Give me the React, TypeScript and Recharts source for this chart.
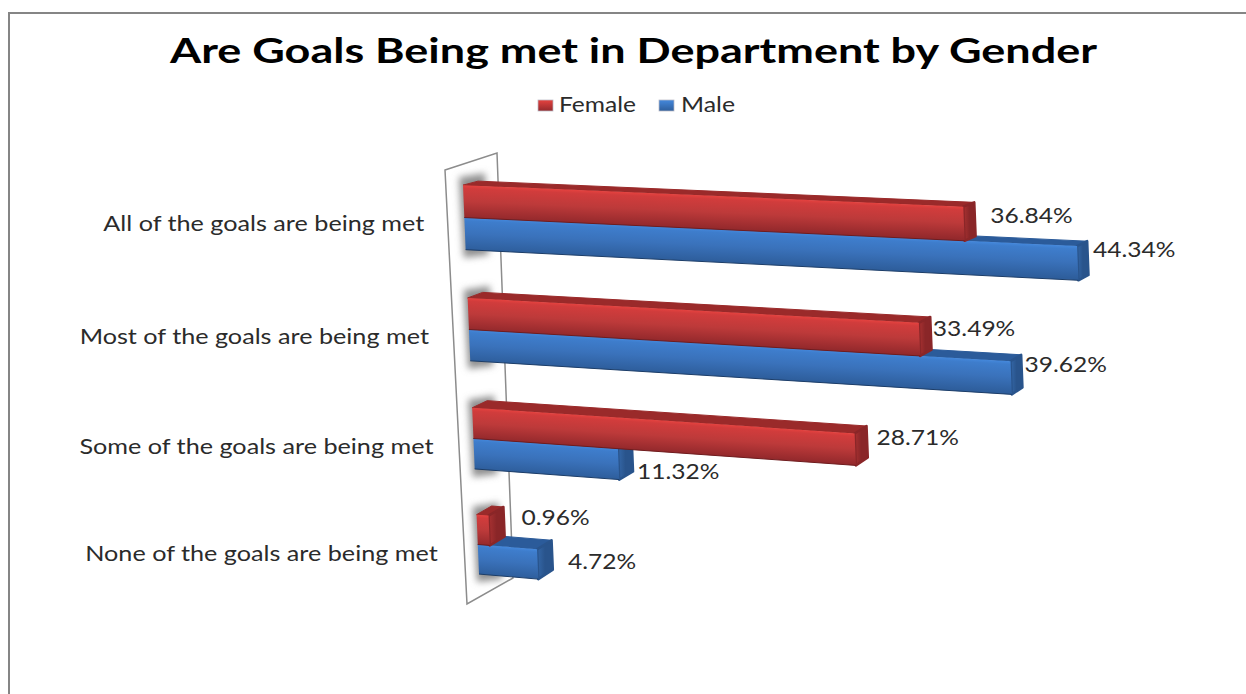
import { BarChart, Bar, XAxis, YAxis, Legend, LabelList } from "recharts";

const categories = [
  "All of the goals are being met",
  "Most of the goals are being met",
  "Some of the goals are being met",
  "None of the goals are being met",
];
const female = [36.84, 33.49, 28.71, 0.96];
const male = [44.34, 39.62, 11.32, 4.72];

const data = categories.map((name, i) => ({ name, female: female[i], male: male[i] }));

// hand placed data labels, offset from the front right corner of each bar
const LABEL_NUDGE: Record<string, number[][]> = {
  female: [[27, -8], [14, -10], [22, -11], [33, -13]],
  male: [[16, -13], [14, -13], [19, 8], [31, -2]],
};

const COLORS: Record<string, any> = {
  female: {
    front: ["#e5423f", "#d13c3c", "#bd3a3a", "#94292c"],
    top: "#9a2a2a",
    side: ["#a93232", "#8a2628"],
    edge: "#6f1c1e",
  },
  male: {
    front: ["#4488dc", "#3e7dcc", "#3a72bb", "#2e5e9c"],
    top: "#2b5b9a",
    side: ["#3568a8", "#29548c"],
    edge: "#1c3d68",
  },
};

const FONT = "Lato, sans-serif";
const TEXT_COLOR = "#2b2b2b";

// the picture is a tilted 3D chart: flat plot coordinates go through this
const PLOT_LEFT = 463;
function rowY(fy: number) {
  const u = fy - 383.5;
  return 383.875 + u - 0.000126 * u * u;
}
function project(fx: number, fy: number) {
  const sy0 = rowY(fy);
  const k = 0.043 + (sy0 - 185) * 0.000108;
  const x0 = PLOT_LEFT + 0.0412 * (sy0 - 185);
  const flat = fx - PLOT_LEFT;
  const dist = flat * (0.902 + 0.000169 * flat);
  return { x: x0 + dist, y: sy0 + k * dist, k };
}
// bar depth shrinks towards the far end of the bar
function depth(sy: number, dist: number) {
  return { dx: 15 - dist * 0.008, dy: -(4 + (sy - 185) * 0.014) };
}
const pts = (list: { x: number; y: number }[]) => list.map((p) => `${p.x},${p.y}`).join(" ");
const slotShift = (series: string, h: number) => (series === "male" ? h : -h);

function Bar3D(props: any) {
  const { x, y, width, height, index, series } = props;
  const c = COLORS[series];
  const y0 = y + slotShift(series, height);
  const tl = project(x, y0);
  const tr = project(x + width, y0);
  const br = project(x + width, y0 + height);
  const bl = project(x, y0 + height);
  const dist = tr.x - tl.x;
  const dT = depth(tr.y, dist);
  const dB = depth(br.y, dist);
  const dL = depth(tl.y, 0);
  const backTR = { x: tr.x + dT.dx, y: tr.y + dT.dy };
  const backBR = { x: br.x + dB.dx, y: br.y + dB.dy };
  const backTL = { x: tl.x + dL.dx, y: tl.y + dL.dy };
  const gid = `front-${series}-${index}`;
  const sid = `side-${series}-${index}`;
  const wallTop = project(x, y);
  const wallBottom = project(x, y + height * 2);
  return (
    <g>
      <defs>
        <linearGradient
          id={gid}
          gradientUnits="userSpaceOnUse"
          x1={tl.x}
          y1={tl.y}
          x2={tl.x - tl.k * (bl.y - tl.y)}
          y2={bl.y}
        >
          <stop offset="0" stopColor={c.front[0]} />
          <stop offset="0.1" stopColor={c.front[1]} />
          <stop offset="0.5" stopColor={c.front[2]} />
          <stop offset="1" stopColor={c.front[3]} />
        </linearGradient>
        <linearGradient id={sid} x1="0" y1="0" x2="1" y2="0">
          <stop offset="0" stopColor={c.side[0]} />
          <stop offset="0.5" stopColor={c.side[1]} />
          <stop offset="1" stopColor={c.side[1]} />
        </linearGradient>
      </defs>
      {series === "male" && (
        <polygon
          points={pts([
            { x: wallTop.x - 4, y: wallTop.y - 8 },
            { x: wallTop.x + 22, y: wallTop.y - 12 },
            { x: wallBottom.x + 23, y: wallBottom.y + 5 },
            { x: wallBottom.x - 2, y: wallBottom.y + 8 },
          ])}
          fill="#8f8f8f"
          filter="url(#wallShadow)"
        />
      )}
      <polygon points={pts([tl, tr, backTR, backTL])} fill={c.top} stroke={c.top} strokeWidth={1} strokeLinejoin="round" />
      <polygon points={pts([tr, backTR, backBR, br])} fill={`url(#${sid})`} stroke={c.side[1]} strokeWidth={2.5} strokeLinejoin="round" />
      <polygon points={pts([tl, tr, br, bl])} fill={`url(#${gid})`} />
      <polyline points={pts([bl, br])} fill="none" stroke={c.edge} strokeWidth={1} />
    </g>
  );
}

function ValueLabel(props: any) {
  const { x, y, width, height, value, index, series } = props;
  const y0 = y + slotShift(series, height);
  const top = project(x + width, y0);
  const bottom = project(x + width, y0 + height);
  const [dx, dy] = LABEL_NUDGE[series][index];
  const lx = top.x + dx;
  const ly = (top.y + bottom.y) / 2 + dy + 7;
  return (
    <text
      transform={`translate(${lx},${ly}) scale(1.17,1)`}
      fontFamily={FONT}
      fontSize={21}
      fill={TEXT_COLOR}
    >
      {`${Number(value).toFixed(2)}%`}
    </text>
  );
}

function RowTick(props: any) {
  const { y, payload } = props;
  const sy = rowY(y);
  const right = PLOT_LEFT + 0.0412 * (sy - 185) - 40;
  const baseline = sy + 13.5 + (sy - 185) * 0.009;
  return (
    <text
      transform={`translate(${right},${baseline}) scale(1.2,1)`}
      textAnchor="end"
      fontFamily={FONT}
      fontSize={21}
      fill={TEXT_COLOR}
    >
      {payload.value}
    </text>
  );
}

function ChartLegend() {
  const items = [
    { label: "Female", key: "female", box: 538, text: 559, w: 77 },
    { label: "Male", key: "male", box: 659, text: 681, w: 54 },
  ];
  return (
    <div style={{ position: "relative", height: 0 }}>
      <svg width={1246} height={130} style={{ position: "absolute", left: 0, top: 0 }}>
        <defs>
          {items.map((it) => (
            <linearGradient key={it.key} id={`swatch-${it.key}`} x1="0" y1="0" x2="0" y2="1">
              <stop offset="0" stopColor={COLORS[it.key].front[0]} />
              <stop offset="1" stopColor={COLORS[it.key].front[3]} />
            </linearGradient>
          ))}
        </defs>
        {items.map((it) => (
          <g key={it.key}>
            <rect x={it.box} y={100} width={15} height={11} fill={`url(#swatch-${it.key})`} stroke="#b9b9c4" strokeWidth={0.75} />
            <text
              x={it.text}
              y={112}
              fontFamily={FONT}
              fontSize={21}
              fill={TEXT_COLOR}
              textLength={it.w}
              lengthAdjust="spacingAndGlyphs"
            >
              {it.label}
            </text>
          </g>
        ))}
      </svg>
    </div>
  );
}

export default function App() {
  return (
    <div
      style={{
        position: "absolute",
        left: 0,
        top: 0,
        width: 1246,
        height: 694,
        overflow: "hidden",
        background: "#fff",
      }}
    >
      <div
        style={{
          position: "absolute",
          left: 8,
          top: 12,
          width: 1238,
          height: 682,
          borderTop: "2px solid #858585",
          borderLeft: "2px solid #858585",
        }}
      />
      <div style={{ position: "absolute", left: 0, top: 0 }}>
        <BarChart
          width={1246}
          height={694}
          data={data}
          layout="vertical"
          barSize={31}
          barGap={0}
          margin={{ top: 165.5, right: 95.5, bottom: 92.5, left: 0 }}
        >
          <defs>
            <filter id="wallShadow" x="-50%" y="-50%" width="200%" height="200%">
              <feGaussianBlur stdDeviation="3.5" />
            </filter>
          </defs>
          <text
            x={170}
            y={63}
            fontFamily={FONT}
            fontWeight={700}
            fontSize={35}
            fill="#000"
            textLength={927}
            lengthAdjust="spacingAndGlyphs"
          >
            Are Goals Being met in Department by Gender
          </text>
          {/* side wall of the 3D plot */}
          <polygon
            points="445,170 497,153 513,578 467,604"
            fill="#fff"
            stroke="#8c8c8c"
            strokeWidth={1.5}
          />
          <XAxis type="number" domain={[0, 50]} hide />
          <YAxis
            type="category"
            dataKey="name"
            width={463}
            axisLine={false}
            tickLine={false}
            interval={0}
            tick={RowTick}
          />
          <Legend content={ChartLegend} wrapperStyle={{ left: 0, top: 0, width: 1246 }} />
          {/* Male goes first so Female paints over it, slots are swapped in the shapes */}
          <Bar
            dataKey="male"
            name="Male"
            fill="#3a72bb"
            isAnimationActive={false}
            shape={(p: any) => <Bar3D {...p} series="male" />}
          >
            <LabelList dataKey="male" content={(p: any) => <ValueLabel {...p} series="male" />} />
          </Bar>
          <Bar
            dataKey="female"
            name="Female"
            fill="#bd3a3a"
            isAnimationActive={false}
            shape={(p: any) => <Bar3D {...p} series="female" />}
          >
            <LabelList dataKey="female" content={(p: any) => <ValueLabel {...p} series="female" />} />
          </Bar>
        </BarChart>
      </div>
    </div>
  );
}
